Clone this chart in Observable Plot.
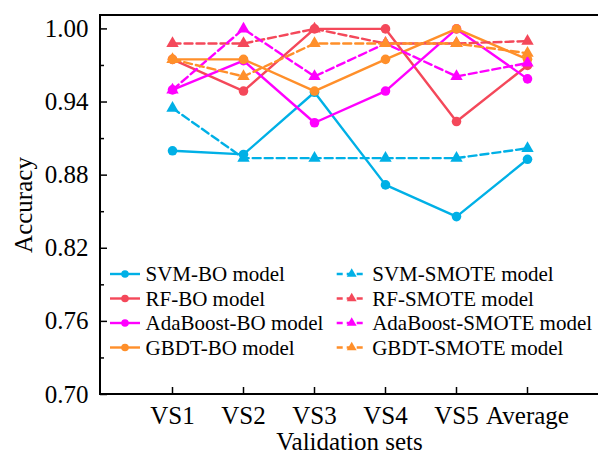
<!DOCTYPE html>
<html>
<head>
<meta charset="utf-8">
<script src="https://cdn.jsdelivr.net/npm/d3@7"></script>
<script src="https://cdn.jsdelivr.net/npm/@observablehq/plot@0.6"></script>
<style>
  body { margin: 0; background: #fff; }
  #chart { position: relative; width: 598px; height: 455px; font-family: 'Liberation Serif'; }
  #chart text { font-family: 'Liberation Serif'; }
  #legend { position: absolute; left: 0; top: 0; pointer-events: none; }
</style>
</head>
<body>
<div id="chart"></div>
<script>
// Validation sets on the x axis
const sets = ["VS1", "VS2", "VS3", "VS4", "VS5", "Average"];

// Accuracy per model, Bayesian-optimised (BO) variants
const svmBO  = [0.900, 0.897, 0.948, 0.872, 0.846, 0.893];
const rfBO   = [0.975, 0.949, 1.000, 1.000, 0.924, 0.970];
const adaBO  = [0.950, 0.974, 0.923, 0.949, 1.000, 0.959];
const gbdtBO = [0.975, 0.975, 0.949, 0.975, 1.000, 0.975];

// Accuracy per model, SMOTE variants
const svmSMOTE  = [0.935, 0.894, 0.894, 0.894, 0.894, 0.902];
const rfSMOTE   = [0.988, 0.988, 1.000, 0.988, 0.988, 0.990];
const adaSMOTE  = [0.950, 1.000, 0.961, 0.988, 0.961, 0.972];
const gbdtSMOTE = [0.975, 0.961, 0.988, 0.988, 0.988, 0.980];

const boNames    = ["SVM-BO model", "RF-BO model", "AdaBoost-BO model", "GBDT-BO model"];
const smoteNames = ["SVM-SMOTE model", "RF-SMOTE model", "AdaBoost-SMOTE model", "GBDT-SMOTE model"];
const palette    = ["#00b0e6", "#f4485a", "#ff00ff", "#ff8f2a"];

const yTicks = [0.70, 0.76, 0.82, 0.88, 0.94, 1.00];
const yMinor = [0.73, 0.79, 0.85, 0.91, 0.97];
const yRange = [0.70, 1.011];

const serif = "Liberation Serif";

const series = [
  ...[svmBO, rfBO, adaBO, gbdtBO].map((v, i) => ({name: boNames[i], values: v, color: palette[i], smote: false})),
  ...[svmSMOTE, rfSMOTE, adaSMOTE, gbdtSMOTE].map((v, i) => ({name: smoteNames[i], values: v, color: palette[i], smote: true}))
];

const marks = [];
for (const s of series) {
  const rows = s.values.map((value, i) => ({set: sets[i], value}));
  marks.push(Plot.line(rows, {
    x: "set", y: "value", stroke: s.color, strokeWidth: 2.4,
    strokeDasharray: s.smote ? "8,4" : null
  }));
  marks.push(Plot.dot(rows, {
    x: "set", y: "value", fill: s.color, stroke: "none",
    symbol: s.smote ? "triangle" : "circle", r: s.smote ? 4.6 : 4.8
  }));
}

// Open frame: top, left and bottom edges of the plotting area
function frameEdges(index, scales, values, dims) {
  const {width, height, marginLeft, marginRight, marginTop, marginBottom} = dims;
  const x0 = marginLeft, x1 = width - marginRight, y0 = marginTop, y1 = height - marginBottom;
  const g = d3.create("svg:g").attr("fill", "none").attr("stroke", "#000").attr("stroke-width", 2)
    .attr("stroke-linecap", "square");
  g.append("path").attr("d", `M${x1},${y0}H${x0}V${y1}H${x1}`);
  return g.node();
}

const chart = Plot.plot({
  width: 598,
  height: 455,
  marginLeft: 100,
  marginRight: 0,
  marginTop: 15,
  marginBottom: 61,
  style: {fontSize: "25px", color: "#000", background: "#fff"},
  x: {type: "point", domain: sets, padding: 1},
  y: {domain: yRange},
  marks: [
    Plot.axisX({tickSize: -7, tickPadding: 19, strokeWidth: 1.5,
      label: "Validation sets", labelAnchor: "center", labelOffset: 55, labelArrow: "none"}),
    Plot.axisY(yTicks, {tickSize: -7, tickPadding: 19, strokeWidth: 1.5,
      tickFormat: d3.format(".2f"),
      label: "Accuracy", labelAnchor: "center", labelOffset: 86, labelArrow: "none"}),
    Plot.axisY(yMinor, {tickSize: -4, strokeWidth: 1.5, tickFormat: () => "", label: null}),
    frameEdges,
    ...marks
  ]
});

const root = document.getElementById("chart");
root.appendChild(chart);

// Legend: two columns, BO models on the left, SMOTE models on the right
const legend = d3.select(root).append("svg")
  .attr("id", "legend").attr("width", 598).attr("height", 455)
  .attr("font-size", 21);

const rowY = [274, 298.5, 323, 347.5];
const columns = [
  {x: 110, names: boNames, smote: false},
  {x: 336.7, names: smoteNames, smote: true}
];
for (const col of columns) {
  col.names.forEach((name, i) => {
    const g = legend.append("g").attr("transform", `translate(${col.x},${rowY[i]})`);
    const c = palette[i];
    g.append("line").attr("x1", 0).attr("x2", 30).attr("y1", 0).attr("y2", 0)
      .attr("stroke", c).attr("stroke-width", 2.4)
      .attr("stroke-dasharray", col.smote ? "6,4" : null);
    if (col.smote) {
      g.append("path").attr("d", d3.symbol(d3.symbolTriangle, 42)()).attr("transform", "translate(15,0)").attr("fill", c);
    } else {
      g.append("circle").attr("cx", 15).attr("cy", 0).attr("r", 3.8).attr("fill", c);
    }
    g.append("text").attr("x", 35.5).attr("y", 0).attr("dy", "0.35em").attr("fill", "#000").text(name);
  });
}

// every label in the figure uses the serif face
d3.select(root).selectAll("text").style("font-family", serif);
</script>
</body>
</html>
